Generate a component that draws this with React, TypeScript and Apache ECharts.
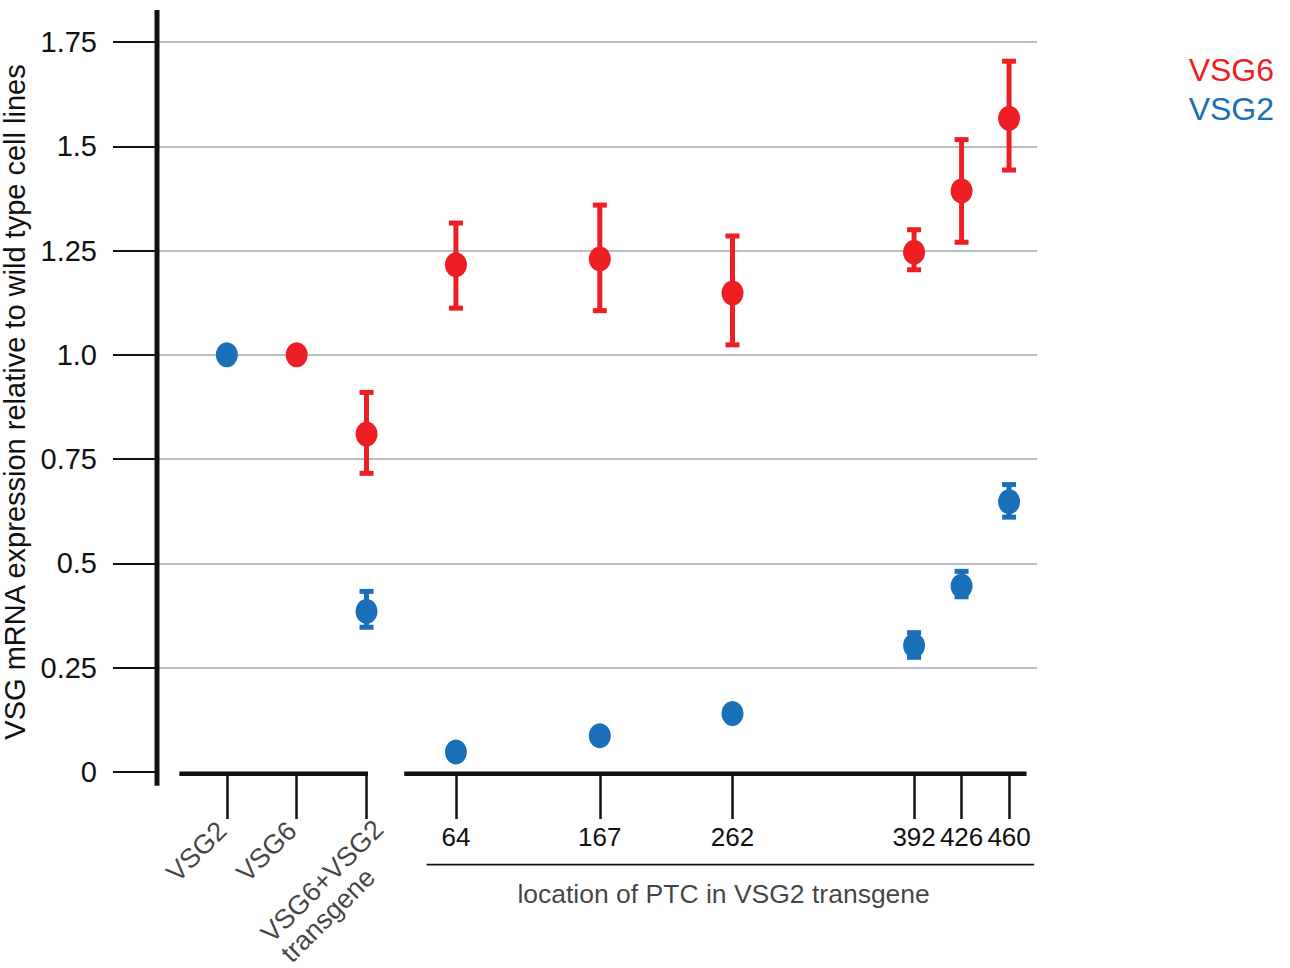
import React, { useEffect, useRef } from 'react';
import * as echarts from 'echarts';

const RED = '#ED1F24';
const BLUE = '#1A70B8';
const INK = '#111111';
const FONT = '"Liberation Sans", Arial, Helvetica, sans-serif';

// x positions: the three control lines sit at -100, -50, 0; PTC constructs at their nucleotide location
const controlX = [-100, -50, 0];
const controlLabels = ['VSG2', 'VSG6', 'VSG6+VSG2\ntransgene'];
const ptcLocations = [64, 167, 262, 392, 426, 460];
const yTickLabels = ['0', '0.25', '0.5', '0.75', '1.0', '1.25', '1.5', '1.75'];
const ptcTitle = 'location of PTC in VSG2 transgene';

// VSG6 mRNA (relative to wild type)
const vsg6X = [-50, 0, 64, 167, 262, 392, 426, 460];
const vsg6Mean = [1.0, 0.81, 1.216, 1.23, 1.148, 1.246, 1.393, 1.567];
const vsg6Low = [1.0, 0.716, 1.112, 1.106, 1.024, 1.204, 1.27, 1.443];
const vsg6High = [1.0, 0.91, 1.316, 1.359, 1.285, 1.3, 1.516, 1.704];

// VSG2 mRNA (relative to wild type)
const vsg2X = [-100, 0, 64, 167, 262, 392, 426, 460];
const vsg2Mean = [1.0, 0.385, 0.048, 0.087, 0.14, 0.303, 0.446, 0.648];
const vsg2Low = [1.0, 0.347, 0.048, 0.087, 0.14, 0.275, 0.42, 0.611];
const vsg2High = [1.0, 0.433, 0.048, 0.087, 0.14, 0.334, 0.481, 0.689];

// layout of the drawn axis frame (in data units): [x1, y1, x2, y2, lineWidth]
const frameSegments = [
  [-150, -0.033, -150, 1.827, 5],
  [-134, -0.004, 1, -0.004, 4.5],
  [27, -0.004, 472.5, -0.004, 4.5],
  [43, -0.222, 478, -0.222, 1.8],
];
const CONTROL_LABEL_Y = -0.148;
// label offsets in the rotated text frame
const CONTROL_LABEL_OFFSETS = [[2, -22], [2, -22], [15, -11]];
const PTC_TITLE_POS = [256, -0.294];

function errorBarRenderer(color: string) {
  return (params: any, api: any) => {
    const x = api.value(0);
    const lo = api.value(2);
    const hi = api.value(3);
    if (hi - lo < 1e-9) return { type: 'group', children: [] };
    const pL = api.coord([x, lo]);
    const pH = api.coord([x, hi]);
    const cw = 14;
    return {
      type: 'group',
      children: [
        { type: 'line', shape: { x1: pL[0], y1: pL[1], x2: pH[0], y2: pH[1] }, style: { stroke: color, lineWidth: 5 } },
        { type: 'line', shape: { x1: pH[0] - cw / 2, y1: pH[1], x2: pH[0] + cw / 2, y2: pH[1] }, style: { stroke: color, lineWidth: 5 } },
        { type: 'line', shape: { x1: pL[0] - cw / 2, y1: pL[1], x2: pL[0] + cw / 2, y2: pL[1] }, style: { stroke: color, lineWidth: 5 } },
      ],
    };
  };
}

export default function App() {
  const ref = useRef<HTMLDivElement>(null);

  useEffect(() => {
    document.body.style.margin = '0';
    if (!ref.current) return;
    const chart = echarts.init(ref.current, null, { renderer: 'svg' });

    const option: any = {
      animation: false,
      backgroundColor: '#ffffff',
      textStyle: { fontFamily: FONT, color: INK },
      grid: { left: 157, top: 42, width: 880, height: 730, containLabel: false, outerBoundsMode: 'none' },
      legend: {
        data: [
          { name: 'VSG6', textStyle: { color: RED } },
          { name: 'VSG2', textStyle: { color: BLUE } },
        ],
        orient: 'vertical',
        right: 11,
        top: 54,
        icon: 'none',
        itemWidth: 0,
        itemHeight: 10,
        itemGap: 6.5,
        align: 'right',
        padding: 0,
        selectedMode: false,
        textStyle: { fontSize: 32, fontFamily: FONT },
      },
      xAxis: {
        type: 'value',
        min: -150,
        max: 480,
        splitLine: { show: false },
        axisLine: { show: false, onZero: false },
        axisTick: {
          show: true,
          customValues: [...controlX, ...ptcLocations],
          length: 47,
          lineStyle: { color: INK, width: 2.5 },
        },
        axisLabel: {
          show: true,
          customValues: ptcLocations,
          formatter: (v: number) => String(v),
          margin: 52,
          fontSize: 26,
          color: INK,
          fontFamily: FONT,
        },
      },
      yAxis: {
        type: 'value',
        min: 0,
        max: 1.75,
        interval: 0.25,
        name: 'VSG mRNA expression relative to wild type cell lines',
        nameLocation: 'middle',
        nameGap: 109,
        nameTextStyle: { fontSize: 29, color: INK, fontFamily: FONT, padding: [0, 0, 0, 10] },
        axisLine: { show: false, onZero: false },
        axisTick: { show: true, length: 44, lineStyle: { color: INK, width: 2 } },
        axisLabel: {
          margin: 60,
          fontSize: 29,
          color: INK,
          fontFamily: FONT,
          formatter: (v: number) => yTickLabels[Math.round(v / 0.25)] ?? String(v),
        },
        splitLine: { show: true, showMinLine: false, lineStyle: { color: '#A7A9AC', width: 1.5 } },
      },
      series: [
        {
          type: 'custom',
          name: 'frame',
          clip: false,
          silent: true,
          z: 1,
          renderItem: (params: any, api: any) => {
            const a = api.coord([api.value(0), api.value(1)]);
            const b = api.coord([api.value(2), api.value(3)]);
            return {
              type: 'line',
              shape: { x1: a[0], y1: a[1], x2: b[0], y2: b[1] },
              style: { stroke: INK, lineWidth: api.value(4) },
            };
          },
          encode: { x: [0, 2], y: [1, 3] },
          data: frameSegments,
        },
        {
          type: 'custom',
          name: 'VSG6 error',
          clip: false,
          z: 3,
          renderItem: errorBarRenderer(RED),
          encode: { x: 0, y: [1, 2, 3] },
          data: vsg6X.map((x, i) => [x, vsg6Mean[i], vsg6Low[i], vsg6High[i]]),
        },
        {
          type: 'custom',
          name: 'VSG2 error',
          clip: false,
          z: 3,
          renderItem: errorBarRenderer(BLUE),
          encode: { x: 0, y: [1, 2, 3] },
          data: vsg2X.map((x, i) => [x, vsg2Mean[i], vsg2Low[i], vsg2High[i]]),
        },
        {
          type: 'scatter',
          name: 'VSG6',
          z: 4,
          symbol: 'circle',
          symbolSize: [22, 25],
          itemStyle: { color: RED, opacity: 1 },
          data: vsg6X.map((x, i) => [x, vsg6Mean[i]]),
        },
        {
          type: 'scatter',
          name: 'VSG2',
          z: 4,
          symbol: 'circle',
          symbolSize: [22, 25],
          itemStyle: { color: BLUE, opacity: 1 },
          data: vsg2X.map((x, i) => [x, vsg2Mean[i]]),
        },
        {
          type: 'scatter',
          name: 'controlLabels',
          clip: false,
          silent: true,
          symbolSize: 1,
          itemStyle: { color: 'rgba(0,0,0,0)' },
          data: controlX.map((x, i) => ({
            value: [x, CONTROL_LABEL_Y],
            label: { offset: CONTROL_LABEL_OFFSETS[i] },
          })),
          label: {
            show: true,
            position: [0, 0],
            rotate: 45,
            align: 'right',
            verticalAlign: 'top',
            fontSize: 27,
            color: INK,
            fontFamily: FONT,
            formatter: (p: any) =>
              controlLabels[p.dataIndex]
                .split('\n')
                .map((s) => `{l|${s}}`)
                .join('\n'),
            rich: { l: { align: 'left', fontSize: 27, color: INK, fontFamily: FONT, lineHeight: 28 } },
          },
        },
        {
          type: 'scatter',
          name: 'ptcTitle',
          clip: false,
          silent: true,
          symbolSize: 1,
          itemStyle: { color: 'rgba(0,0,0,0)' },
          data: [PTC_TITLE_POS],
          label: {
            show: true,
            position: [0, 0],
            align: 'center',
            verticalAlign: 'middle',
            fontSize: 26.5,
            color: INK,
            fontFamily: FONT,
            formatter: () => ptcTitle,
          },
        },
      ],
    };

    chart.setOption(option);
    return () => chart.dispose();
  }, []);

  return <div ref={ref} style={{ width: 1290, height: 968 }} />;
}
